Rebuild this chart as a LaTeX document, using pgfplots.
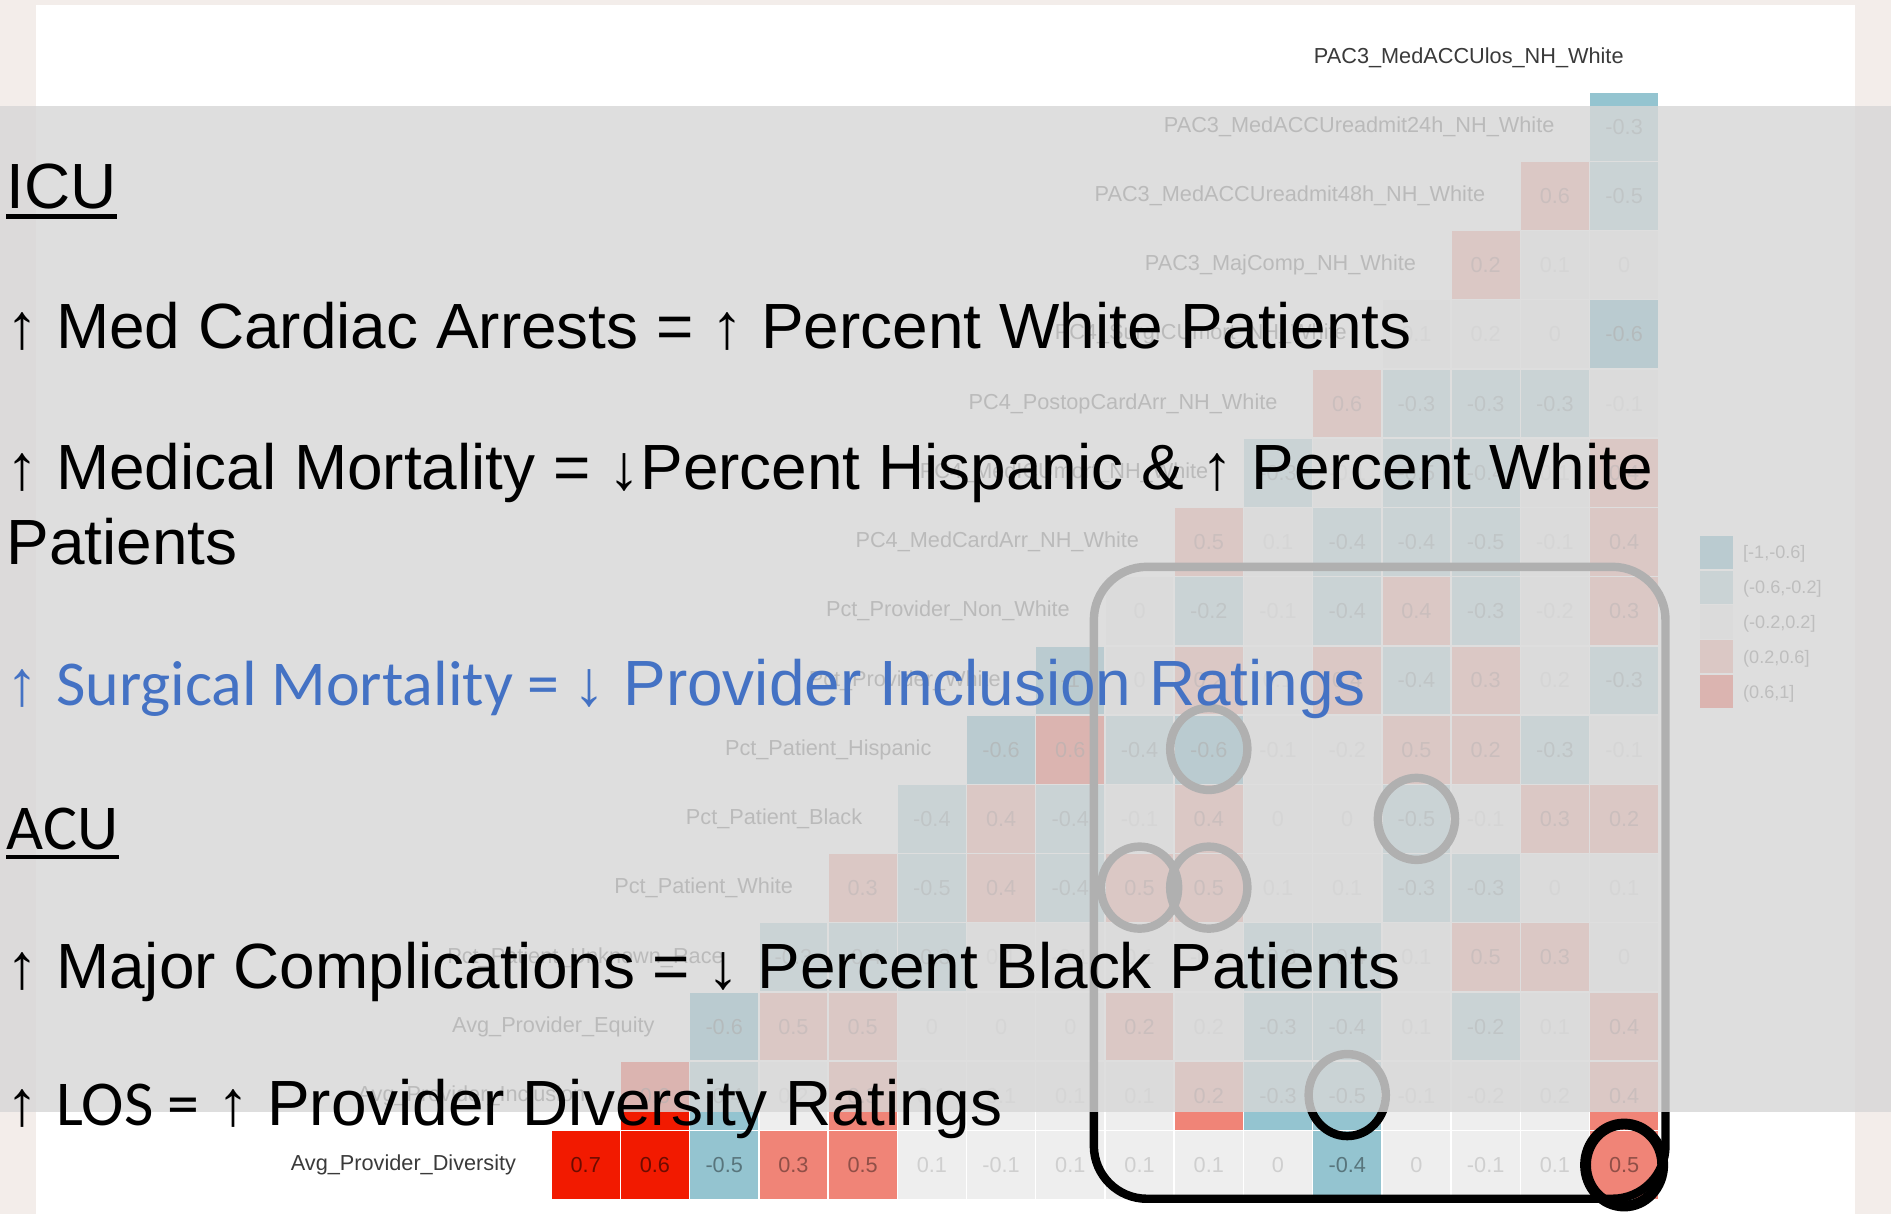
\documentclass[border=0pt]{standalone}
\usepackage{fontspec}
\setmainfont{Liberation Sans}
\newfontfamily\calib{Carlito}
\usepackage{pgfplots}
\usepackage{pgfplotstable}
\pgfplotsset{compat=1.18}
\definecolor{cA}{HTML}{3B9AB2}
\definecolor{cB}{HTML}{94C4D0}
\definecolor{cC}{HTML}{EEEEEE}
\definecolor{cD}{HTML}{F08477}
\definecolor{cE}{HTML}{F21A00}
\definecolor{ovl}{HTML}{D7D7D7}
\definecolor{bgb}{HTML}{F3EDEA}
\definecolor{txtblue}{HTML}{4472C4}
\definecolor{lbl}{HTML}{3A3A3A}
\definecolor{legtxt}{HTML}{4D4D4D}
\tikzset{lab/.style={anchor=east, inner sep=0pt, font=\fontsize{9}{10}\selectfont, text=lbl}}
\pgfplotsset{cell/.style={only marks, mark=square*, mark size=14.35pt,
   mark options={draw=white, line width=0.6pt, fill=#1},
   point meta=explicit symbolic, nodes near coords,
   every node near coord/.append style={anchor=center, inner sep=0pt,
     font=\fontsize{9}{10}\selectfont, text=black}}}

% class [-1,-0.6]
\pgfplotstableread{
x y v
16 13 -0.6
8 8 -1
7 7 -0.6
10 7 -0.6
3 3 -0.6
}\tA
% class (-0.6,-0.2]
\pgfplotstableread{
x y v
16 16 -0.3
16 15 -0.5
13 12 -0.3
14 12 -0.3
15 12 -0.3
11 11 -0.3
13 11 -0.5
14 11 -0.4
12 10 -0.4
13 10 -0.4
14 10 -0.5
10 9 -0.2
12 9 -0.4
14 9 -0.3
13 8 -0.4
16 8 -0.3
9 7 -0.4
15 7 -0.3
6 6 -0.4
8 6 -0.4
13 6 -0.5
6 5 -0.5
8 5 -0.4
13 5 -0.3
14 5 -0.3
4 4 -0.3
5 4 -0.4
6 4 -0.3
11 4 -0.3
12 4 -0.4
11 3 -0.3
12 3 -0.4
14 3 -0.2
3 2 -0.4
11 2 -0.3
12 2 -0.5
3 1 -0.5
12 1 -0.4
}\tB
% class (-0.2,0.2]
\pgfplotstableread{
x y v
15 14 0.1
16 14 0
13 13 0.1
14 13 0.2
15 13 0
16 12 -0.1
12 11 -0.1
15 11 0.1
11 10 0.1
15 10 -0.1
9 9 0
11 9 -0.1
15 9 -0.2
9 8 0
11 8 0.1
15 8 0.2
11 7 -0.1
12 7 -0.2
16 7 -0.1
9 6 -0.1
11 6 0
12 6 0
14 6 -0.1
11 5 0.1
12 5 0.1
15 5 0
16 5 0.1
7 4 0.1
8 4 -0.1
9 4 0.1
10 4 -0.1
13 4 0.1
16 4 0
6 3 0
7 3 0
8 3 0
10 3 0.2
13 3 0.1
15 3 0.1
4 2 0.2
6 2 0.1
7 2 0.1
8 2 0.1
9 2 0.1
13 2 -0.1
14 2 -0.2
15 2 0.2
6 1 0.1
7 1 -0.1
8 1 0.1
9 1 0.1
10 1 0.1
11 1 0
13 1 0
14 1 -0.1
15 1 0.1
}\tC
% class (0.2,0.6]
\pgfplotstableread{
x y v
15 15 0.6
14 14 0.2
12 12 0.6
16 11 0.4
10 10 0.5
16 10 0.4
13 9 0.4
16 9 0.3
10 8 0.2
12 8 0.4
14 8 0.3
13 7 0.5
14 7 0.2
7 6 0.4
10 6 0.4
15 6 0.3
16 6 0.2
5 5 0.3
7 5 0.4
9 5 0.5
10 5 0.5
14 4 0.5
15 4 0.3
4 3 0.5
5 3 0.5
9 3 0.2
16 3 0.4
5 2 0.3
10 2 0.2
16 2 0.4
4 1 0.3
5 1 0.5
16 1 0.5
}\tD
% class (0.6,1]
\pgfplotstableread{
x y v
8 7 0.6
2 2 0.6
1 1 0.7
2 1 0.6
}\tE

\begin{document}
\begin{tikzpicture}
\begin{scope}[x=0.5pt,y=-0.5pt]
\useasboundingbox (0,0) rectangle (1568,1007);
\fill[bgb] (0,0) rectangle (1568,1007);
\fill[white] (30,4) rectangle (1538,1007);
\end{scope}

\begin{axis}[at={(228.5pt,-497.35pt)}, anchor=south west,
  scale only axis, width=459.2pt, height=487.9pt,
  xmin=0.5, xmax=16.5, ymin=0.5, ymax=17.5,
  hide axis, clip=false]
\addplot[cell=cA, every node near coord/.append style={text opacity=0.62}] table[x=x, y=y, meta=v]{\tA};
\addplot[cell=cB, every node near coord/.append style={text opacity=0.4}] table[x=x, y=y, meta=v]{\tB};
\addplot[cell=cC, every node near coord/.append style={text opacity=0.13}] table[x=x, y=y, meta=v]{\tC};
\addplot[cell=cD, every node near coord/.append style={text opacity=0.4}] table[x=x, y=y, meta=v]{\tD};
\addplot[cell=cE, every node near coord/.append style={text opacity=0.55}] table[x=x, y=y, meta=v]{\tE};
\node[lab] at (axis cs:16,17) {PAC3\_MedACCUlos\_NH\_White};
\node[lab] at (axis cs:15,16) {PAC3\_MedACCUreadmit24h\_NH\_White};
\node[lab] at (axis cs:14,15) {PAC3\_MedACCUreadmit48h\_NH\_White};
\node[lab] at (axis cs:13,14) {PAC3\_MajComp\_NH\_White};
\node[lab] at (axis cs:12,13) {PC4\_SurgICUmort\_NH\_White};
\node[lab] at (axis cs:11,12) {PC4\_PostopCardArr\_NH\_White};
\node[lab] at (axis cs:10,11) {PC4\_MedICUmort\_NH\_White};
\node[lab] at (axis cs:9,10) {PC4\_MedCardArr\_NH\_White};
\node[lab] at (axis cs:8,9) {Pct\_Provider\_Non\_White};
\node[lab] at (axis cs:7,8) {Pct\_Provider\_White};
\node[lab] at (axis cs:6,7) {Pct\_Patient\_Hispanic};
\node[lab] at (axis cs:5,6) {Pct\_Patient\_Black};
\node[lab] at (axis cs:4,5) {Pct\_Patient\_White};
\node[lab] at (axis cs:3,4) {Pct\_Patient\_Unknown\_Race};
\node[lab] at (axis cs:2,3) {Avg\_Provider\_Equity};
\node[lab] at (axis cs:1,2) {Avg\_Provider\_Inclusion};
\node[lab] at (axis cs:0,1) {Avg\_Provider\_Diversity};
\end{axis}

\begin{scope}[x=0.5pt,y=-0.5pt]
% legend
\fill[cA] (1409.6,444.5) rectangle (1437,472.2);
\fill[cB] (1409.6,473.2) rectangle (1437,500.9);
\fill[cC] (1409.6,501.9) rectangle (1437,529.6);
\fill[cD] (1409.6,530.6) rectangle (1437,558.3);
\fill[cE] (1409.6,559.3) rectangle (1437,587);
\begin{scope}[every node/.style={anchor=west, inner sep=0pt, font=\fontsize{7.5}{8}\selectfont, text=legtxt}]
\node at (1445,459) {[-1,-0.6]};
\node at (1445,488) {(-0.6,-0.2]};
\node at (1445,517) {(-0.2,0.2]};
\node at (1445,546) {(0.2,0.6]};
\node at (1445,575) {(0.6,1]};
\end{scope}
% annotations
\draw[black, line width=3.5pt, rounded corners=22pt] (907,470) rectangle (1381,994);
\draw[black, line width=3.5pt] (1002.3,621) ellipse [x radius=32, y radius=34];
\draw[black, line width=3.5pt] (1174.5,679) ellipse [x radius=32, y radius=34];
\draw[black, line width=3.5pt] (944.9,736) ellipse [x radius=32, y radius=34];
\draw[black, line width=3.5pt] (1002.3,736) ellipse [x radius=32, y radius=34];
\draw[black, line width=3.5pt] (1117.1,908) ellipse [x radius=32, y radius=34];
\draw[black, line width=4.5pt] (1346.7,966) ellipse [x radius=32, y radius=34];
% overlay
\fill[ovl, fill opacity=0.82] (0,88) rectangle (1568,922);
% text
\begin{scope}[every node/.style={anchor=base west, inner sep=0pt, font=\fontsize{26.5}{30}\selectfont, text=black}]
\node (icu) at (5,173) {ICU};
\draw[line width=1.8pt] ([yshift=-3.2pt]icu.base west) -- ([yshift=-3.2pt]icu.base east);
\node at (5,289) {↑ Med Cardiac Arrests = ↑ Percent White Patients};
\node at (5,406) {↑ Medical Mortality = ↓Percent Hispanic \& ↑ Percent White};
\node at (5,468) {Patients};
\node[text=txtblue] at (5,585) {↑ {\calib Surgical Mortality = }↓ Provider Inclusion Ratings};
\node (acu) at (5,704) {\calib ACU};
\draw[line width=1.8pt] ([yshift=-3.2pt]acu.base west) -- ([yshift=-3.2pt]acu.base east);
\node at (5,820) {↑ Major Complications = ↓ Percent Black Patients};
\node at (5,933) {↑ {\calib LOS =} ↑ Provider Diversity Ratings};
\end{scope}
\end{scope}
\end{tikzpicture}
\end{document}
